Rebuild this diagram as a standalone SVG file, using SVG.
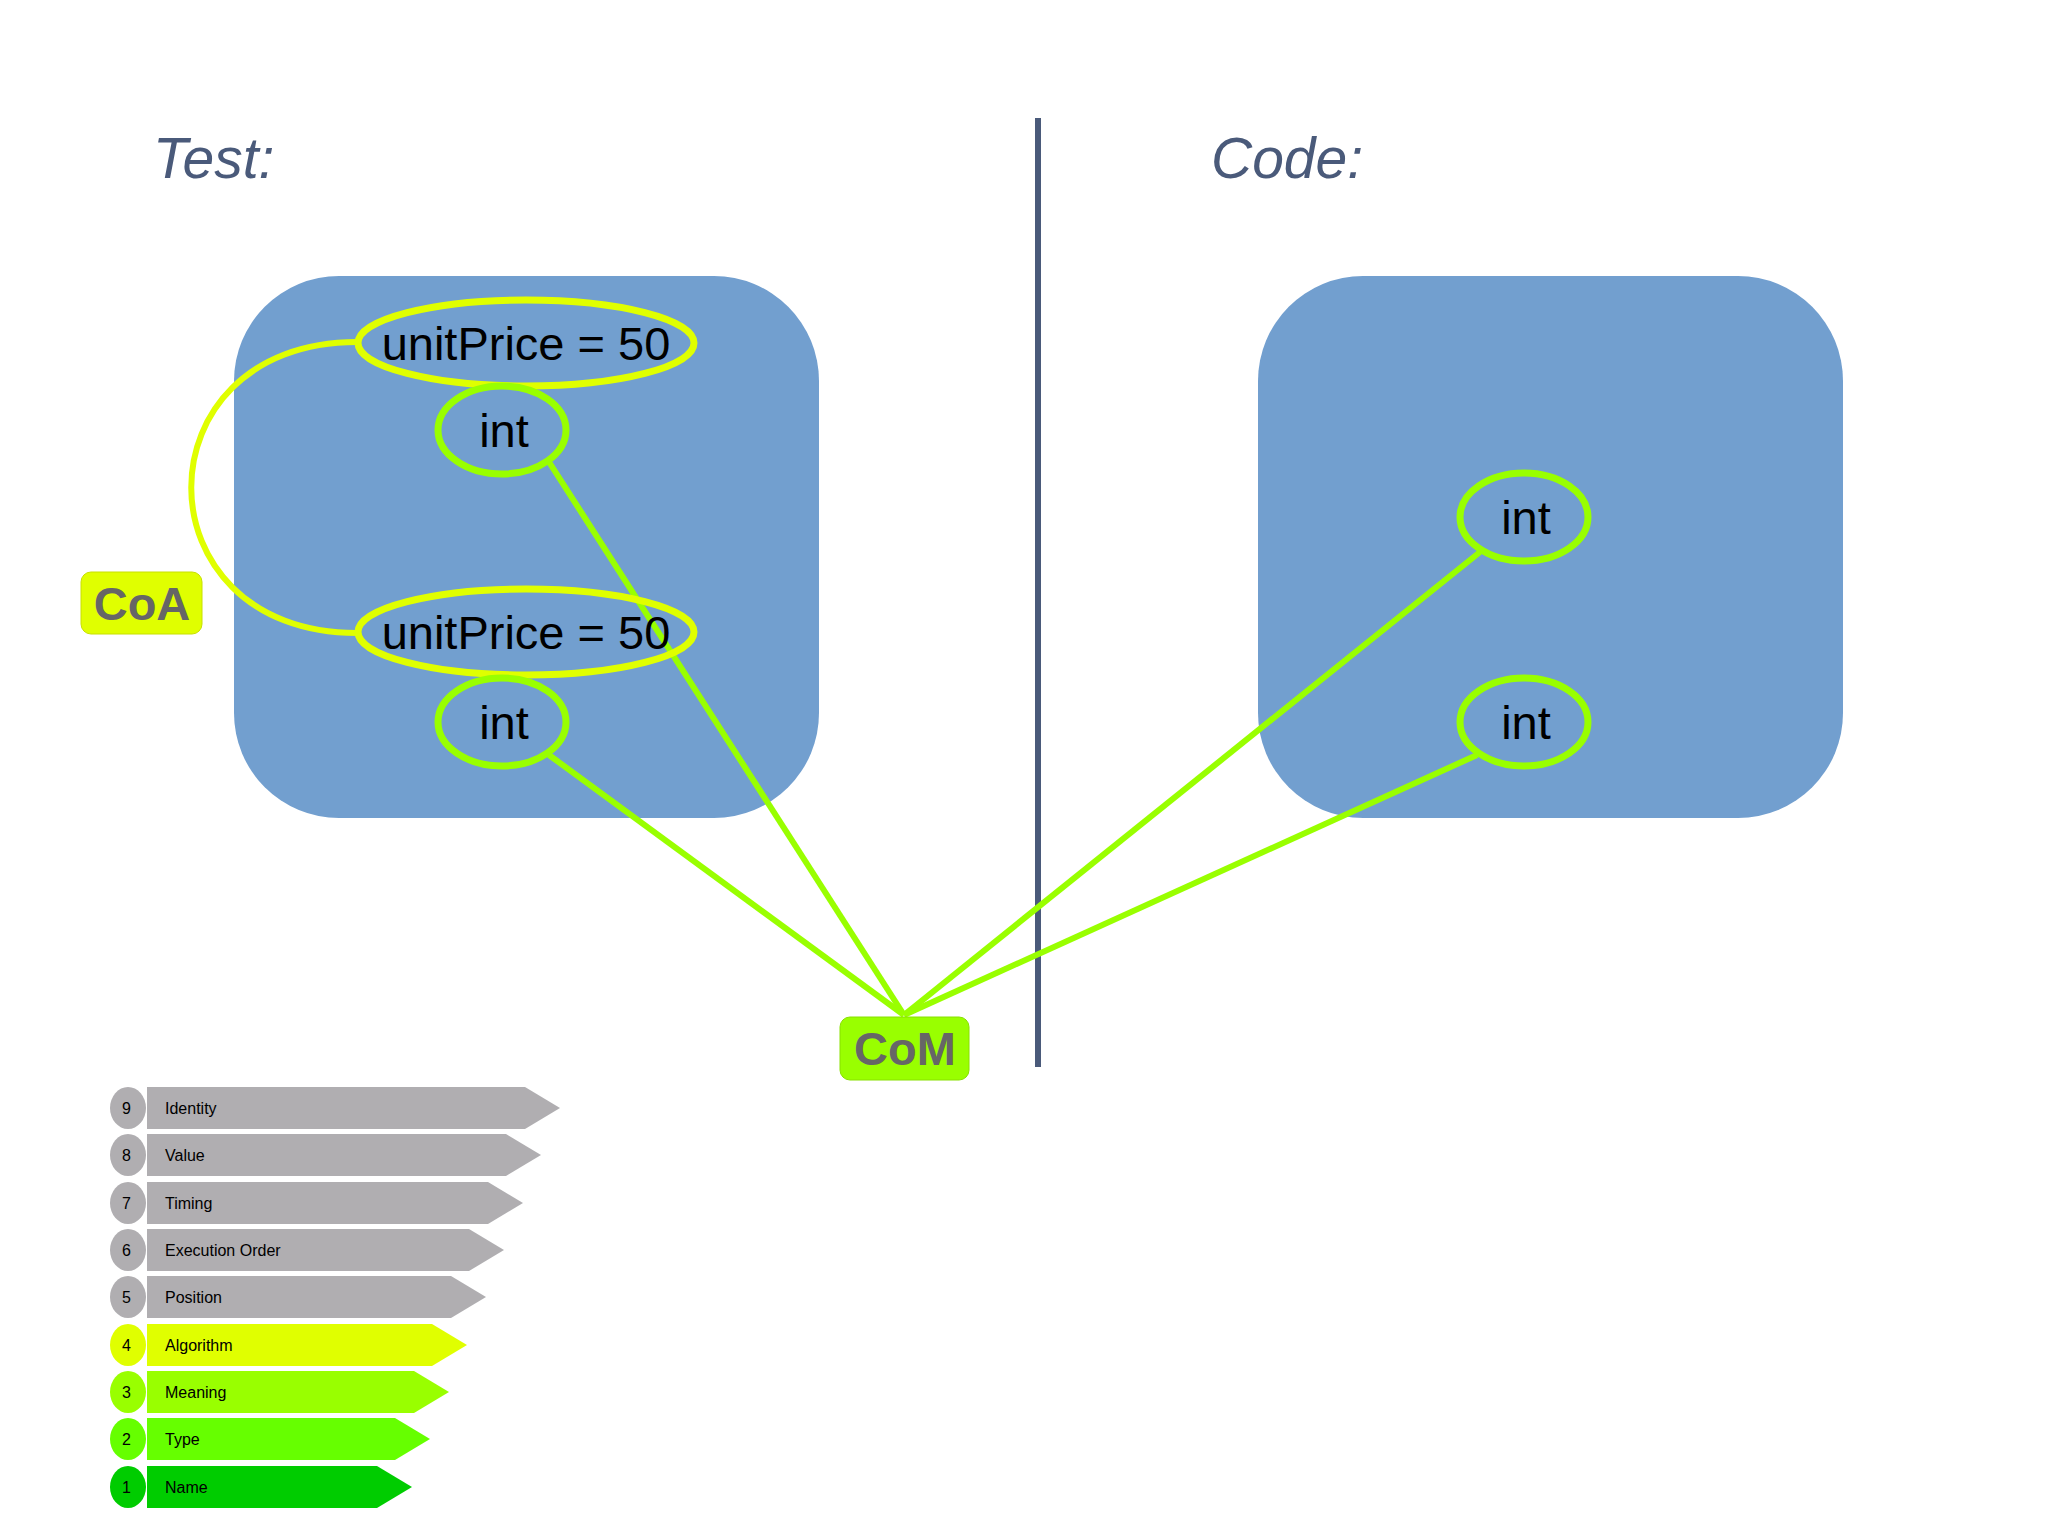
<svg xmlns="http://www.w3.org/2000/svg" width="2048" height="1535" viewBox="0 0 2048 1535">
<style>
.t{font-family:"Liberation Sans",Arial,sans-serif}
.box{fill:#729fcf}
.el{fill:none;stroke:#e0ff00;stroke-width:7}
.ci{fill:none;stroke:#99ff00;stroke-width:7}
.lbl{font-size:47px;fill:#000}
.con{stroke:#99ff00;stroke-width:6;fill:none}
.lg{font-size:16px;fill:#000}
.g{fill:#b0aeb1}
</style>
<rect width="2048" height="1535" fill="#fff"/>
<text class="t" x="153" y="178" font-size="57" font-style="italic" fill="#4a5a7a">Test:</text>
<text class="t" x="1211" y="178" font-size="57" font-style="italic" fill="#4a5a7a">Code:</text>
<line x1="1038" y1="118" x2="1038" y2="1067" stroke="#4a5a7a" stroke-width="6"/>
<g id="testBox"><rect class="box" x="234" y="276" width="585" height="542" rx="105"/></g>
<g id="codeBox"><rect class="box" x="1258" y="276" width="585" height="542" rx="105"/></g>
<g id="connectors">
<path d="M357,342 C136,342 136,633 357,633" stroke="#e0ff00" stroke-width="6" fill="none"/>
<line class="con" x1="549" y1="462" x2="904" y2="1015"/>
<line class="con" x1="549" y1="755" x2="904" y2="1015"/>
<line class="con" x1="1480" y1="552" x2="904" y2="1015"/>
<line class="con" x1="1477" y1="755" x2="904" y2="1015"/>
</g>
<g id="up1"><ellipse class="el" cx="526" cy="343" rx="168" ry="43"/><text class="t lbl" x="526" y="360" text-anchor="middle">unitPrice = 50</text></g>
<g id="int1"><ellipse class="ci" cx="502" cy="430" rx="64" ry="44"/><text class="t lbl" x="504" y="447" text-anchor="middle">int</text></g>
<g id="up2"><ellipse class="el" cx="526" cy="632" rx="168" ry="43"/><text class="t lbl" x="526" y="649" text-anchor="middle">unitPrice = 50</text></g>
<g id="int2"><ellipse class="ci" cx="502" cy="722" rx="64" ry="44"/><text class="t lbl" x="504" y="739" text-anchor="middle">int</text></g>
<g id="int3"><ellipse class="ci" cx="1524" cy="517" rx="64" ry="44"/><text class="t lbl" x="1526" y="534" text-anchor="middle">int</text></g>
<g id="int4"><ellipse class="ci" cx="1524" cy="722" rx="64" ry="44"/><text class="t lbl" x="1526" y="739" text-anchor="middle">int</text></g>
<g id="coa"><rect x="81" y="572" width="121" height="62" rx="10" fill="#e0ff00" stroke="#c8e000"/><text class="t" x="142" y="620" font-size="47" font-weight="bold" fill="#666" text-anchor="middle">CoA</text></g>
<g id="com"><rect x="840" y="1017" width="129" height="63" rx="10" fill="#99ff00" stroke="#88e000"/><text class="t" x="905" y="1065" font-size="47" font-weight="bold" fill="#666" text-anchor="middle">CoM</text></g>
<g id="legend">
<g><ellipse class="g" cx="128" cy="1108" rx="18" ry="21"/><polygon class="g" points="147,1087 525,1087 560,1108 525,1129 147,1129"/><text class="t lg" x="122" y="1114">9</text><text class="t lg" x="165" y="1114">Identity</text></g>
<g><ellipse class="g" cx="128" cy="1155" rx="18" ry="21"/><polygon class="g" points="147,1134 506,1134 541,1155 506,1176 147,1176"/><text class="t lg" x="122" y="1161">8</text><text class="t lg" x="165" y="1161">Value</text></g>
<g><ellipse class="g" cx="128" cy="1203" rx="18" ry="21"/><polygon class="g" points="147,1182 488,1182 523,1203 488,1224 147,1224"/><text class="t lg" x="122" y="1209">7</text><text class="t lg" x="165" y="1209">Timing</text></g>
<g><ellipse class="g" cx="128" cy="1250" rx="18" ry="21"/><polygon class="g" points="147,1229 469,1229 504,1250 469,1271 147,1271"/><text class="t lg" x="122" y="1256">6</text><text class="t lg" x="165" y="1256">Execution Order</text></g>
<g><ellipse class="g" cx="128" cy="1297" rx="18" ry="21"/><polygon class="g" points="147,1276 451,1276 486,1297 451,1318 147,1318"/><text class="t lg" x="122" y="1303">5</text><text class="t lg" x="165" y="1303">Position</text></g>
<g fill="#e0ff00"><ellipse cx="128" cy="1345" rx="18" ry="21"/><polygon points="147,1324 432,1324 467,1345 432,1366 147,1366"/><text class="t lg" x="122" y="1351">4</text><text class="t lg" x="165" y="1351">Algorithm</text></g>
<g fill="#99ff00"><ellipse cx="128" cy="1392" rx="18" ry="21"/><polygon points="147,1371 414,1371 449,1392 414,1413 147,1413"/><text class="t lg" x="122" y="1398">3</text><text class="t lg" x="165" y="1398">Meaning</text></g>
<g fill="#66ff00"><ellipse cx="128" cy="1439" rx="18" ry="21"/><polygon points="147,1418 395,1418 430,1439 395,1460 147,1460"/><text class="t lg" x="122" y="1445">2</text><text class="t lg" x="165" y="1445">Type</text></g>
<g fill="#00cc00"><ellipse cx="128" cy="1487" rx="18" ry="21"/><polygon points="147,1466 377,1466 412,1487 377,1508 147,1508"/><text class="t lg" x="122" y="1493">1</text><text class="t lg" x="165" y="1493">Name</text></g>
</g>
</svg>
